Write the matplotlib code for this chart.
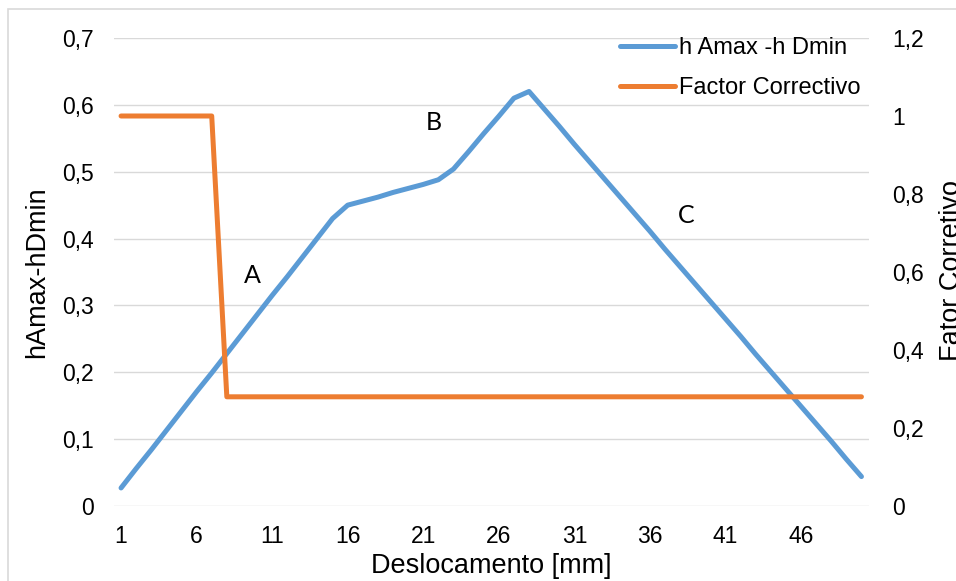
import matplotlib
matplotlib.use('Agg')
import matplotlib.pyplot as plt
from matplotlib.patches import Rectangle
from matplotlib.ticker import FuncFormatter

# dados
deslocamento = list(range(1, 51))
h_amax_h_dmin = [
    0.027, 0.056, 0.084, 0.113, 0.142, 0.171, 0.199, 0.228, 0.257, 0.286,
    0.315, 0.343, 0.372, 0.401, 0.430, 0.450, 0.456, 0.462, 0.469, 0.475,
    0.481, 0.488, 0.504, 0.530, 0.557, 0.583, 0.610, 0.620, 0.594, 0.568,
    0.541, 0.515, 0.489, 0.463, 0.437, 0.411, 0.384, 0.358, 0.332, 0.306,
    0.280, 0.254, 0.227, 0.201, 0.175, 0.149, 0.123, 0.097, 0.070, 0.044,
]
factor_corr = [1.0] * 7 + [0.280] * 43
x_ticks = [1, 6, 11, 16, 21, 26, 31, 36, 41, 46]
zonas = [("A", 9.7, 0.345), ("B", 21.7, 0.573), ("C", 38.4, 0.435)]

AZUL = '#5B9BD5'
LARANJA = '#ED7D31'
GRELHA = '#D9D9D9'
FONTE = ['Liberation Sans', 'DejaVu Sans']

plt.rcParams['font.family'] = FONTE


def virgula(v, pos):
    s = f"{v:.1f}".replace('.', ',')
    return s[:-2] if s.endswith(',0') else s


fig = plt.figure(figsize=(9.56, 5.81), dpi=100)
ax = fig.add_axes([113.5 / 956, 75 / 581, (869 - 113.5) / 956, (506 - 38) / 581])
ax2 = ax.twinx()

l1, = ax.plot(deslocamento, h_amax_h_dmin, color=AZUL, lw=3.6,
              solid_capstyle='round', solid_joinstyle='round', label='h Amax -h Dmin')
l2, = ax2.plot(deslocamento, factor_corr, color=LARANJA, lw=3.6,
               solid_capstyle='round', solid_joinstyle='round', label='Factor Correctivo')

ax.set_xlim(0.5, 50.5)
ax.set_ylim(0, 0.7)
ax2.set_ylim(0, 1.2)
ax.set_yticks([i / 10 for i in range(8)])
ax2.set_yticks([i / 5 for i in range(7)])
ax.yaxis.set_major_formatter(FuncFormatter(virgula))
ax2.yaxis.set_major_formatter(FuncFormatter(virgula))
ax.set_xticks(x_ticks)

ax.grid(axis='y', color=GRELHA, lw=1.0)
ax.set_axisbelow(True)
for a in (ax, ax2):
    for s in a.spines.values():
        s.set_visible(False)
    a.tick_params(length=0, labelsize=16.5, colors='#000000')
ax.tick_params(axis='y', pad=14)
ax.tick_params(axis='x', pad=14)
ax2.tick_params(axis='y', pad=17)

ax.set_xlabel('Deslocamento [mm]', fontsize=19.5, labelpad=3)
ax.set_ylabel('hAmax-hDmin', fontsize=19.5, labelpad=9)
# rótulo do eixo direito, cortado na borda como no original
fig.text(939 / 956, 0.535, 'Fator Corretivo', rotation=90, fontsize=19.5,
         ha='left', va='center')

for txt, xx, yy in zonas:
    ax.text(xx, yy, txt, fontsize=18, family=['Lato', 'DejaVu Sans'],
            ha='center', va='center')

fig.legend(handles=[l1, l2], loc='upper left',
           bbox_to_anchor=(620 / 956, 1 - 37 / 581), frameon=False,
           fontsize=17, handlelength=2.35, handletextpad=0.15,
           labelspacing=0.78, borderpad=0, borderaxespad=0)

# moldura do gráfico (parcialmente cortada)
fig.patches.append(Rectangle((7.5 / 956, -0.1), 2, 1.1 - 8.5 / 581, fill=False,
                             edgecolor=GRELHA, lw=1.2, transform=fig.transFigure))

fig.savefig('out.png', dpi=100)
plt.close(fig)
